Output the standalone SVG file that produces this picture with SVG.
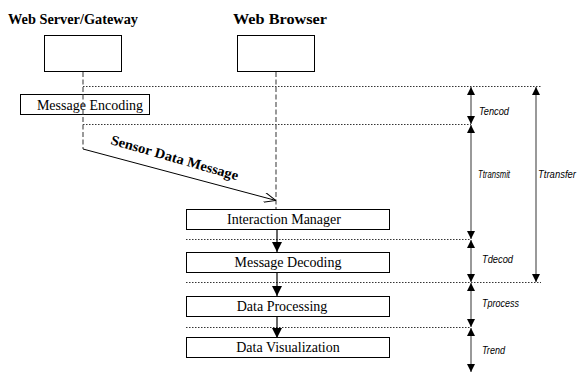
<svg xmlns="http://www.w3.org/2000/svg" width="577" height="373" viewBox="0 0 577 373">
<style>
.hdr{font-family:"Liberation Serif",serif;font-weight:bold;font-size:15px;fill:#000}
.box{fill:#fff;stroke:#000;stroke-width:1}
.bt{font-family:"Liberation Serif",serif;font-size:14px;fill:#000;text-anchor:middle}
.dot{stroke:#000;stroke-width:0.8;stroke-dasharray:1.5,1.5;fill:none}
.life{stroke:#555;stroke-width:1.2;stroke-dasharray:5,2.5;fill:none}
.dim{stroke:#555;stroke-width:1.2;fill:none}
.lbl{font-family:"Liberation Sans",sans-serif;font-style:italic;font-size:10px;fill:#000}
.flow{stroke:#000;stroke-width:1.2;fill:none}
</style>
<defs>
<marker id="tri" viewBox="0 0 10 10" refX="10" refY="5" markerWidth="10" markerHeight="10" markerUnits="userSpaceOnUse" orient="auto">
<path d="M0,0L10,5L0,10z" fill="#000"/>
</marker>
<marker id="dimh" viewBox="0 0 10 10" refX="10" refY="5" markerWidth="9" markerHeight="8" markerUnits="userSpaceOnUse" orient="auto-start-reverse">
<path d="M0,0L10,5L0,10z" fill="#000"/>
</marker>
<marker id="open" viewBox="0 0 12 10" refX="12" refY="5" markerWidth="12" markerHeight="10" markerUnits="userSpaceOnUse" orient="auto">
<path d="M0,0L12,5L0,10" fill="none" stroke="#000" stroke-width="1"/>
</marker>
</defs>
<g id="server">
<text class="hdr" x="8" y="24" textLength="130" lengthAdjust="spacingAndGlyphs">Web Server/Gateway</text>
<rect class="box" x="44.5" y="35.5" width="77" height="36"/>
</g>
<g id="browser">
<text class="hdr" x="233" y="24" textLength="94" lengthAdjust="spacingAndGlyphs">Web Browser</text>
<rect class="box" x="237.5" y="35.5" width="77" height="36"/>
</g>
<g id="guides">
<line class="dot" x1="83" y1="86.5" x2="541" y2="86.5"/>
<line class="dot" x1="83" y1="124.5" x2="471" y2="124.5"/>
<line class="dot" x1="186" y1="239.5" x2="471" y2="239.5"/>
<line class="dot" x1="186" y1="282.5" x2="541" y2="282.5"/>
<line class="dot" x1="186" y1="327.5" x2="471" y2="327.5"/>
</g>
<g id="encoding">
<rect class="box" x="20.5" y="94.5" width="129" height="20"/>
<text class="bt" x="90" y="110">Message Encoding</text>
</g>
<g id="connectors">
<line class="life" x1="83" y1="72" x2="83" y2="149"/>
<line class="life" x1="276" y1="72" x2="276" y2="209"/>
<line x1="83" y1="149" x2="276" y2="200.5" stroke="#000" stroke-width="1" marker-end="url(#open)"/>
<line class="flow" x1="277" y1="229" x2="277" y2="252" marker-end="url(#tri)"/>
<line class="flow" x1="277" y1="272" x2="277" y2="296" marker-end="url(#tri)"/>
<line class="flow" x1="277" y1="317" x2="277" y2="338" marker-end="url(#tri)"/>
<line class="dim" x1="471" y1="87" x2="471" y2="124" marker-start="url(#dimh)" marker-end="url(#dimh)"/>
<line class="dim" x1="471" y1="125" x2="471" y2="239" marker-start="url(#dimh)" marker-end="url(#dimh)"/>
<line class="dim" x1="471" y1="240" x2="471" y2="282" marker-start="url(#dimh)" marker-end="url(#dimh)"/>
<line class="dim" x1="471" y1="283" x2="471" y2="327" marker-start="url(#dimh)" marker-end="url(#dimh)"/>
<line class="dim" x1="471" y1="328" x2="471" y2="372" marker-start="url(#dimh)" marker-end="url(#dimh)"/>
<line class="dim" x1="536" y1="87" x2="536" y2="282" marker-start="url(#dimh)" marker-end="url(#dimh)"/>
</g>
<text x="0" y="0" transform="translate(110,144) rotate(16)" font-family="Liberation Serif, serif" font-weight="bold" font-size="14" fill="#000" textLength="132" lengthAdjust="spacingAndGlyphs">Sensor Data Message</text>
<g id="interaction">
<rect class="box" x="186.5" y="209.5" width="203" height="20"/>
<text class="bt" x="284" y="223.5">Interaction Manager</text>
</g>
<g id="decoding">
<rect class="box" x="186.5" y="252.5" width="203" height="20"/>
<text class="bt" x="288" y="266.5">Message Decoding</text>
</g>
<g id="processing">
<rect class="box" x="186.5" y="296.5" width="203" height="20"/>
<text class="bt" x="282" y="311">Data Processing</text>
</g>
<g id="visualization">
<rect class="box" x="186.5" y="337.5" width="203" height="20"/>
<text class="bt" x="288" y="352">Data Visualization</text>
</g>
<g id="labels">
<text class="lbl" x="479" y="115" textLength="30" lengthAdjust="spacingAndGlyphs">Tencod</text>
<text class="lbl" x="478" y="178" textLength="32" lengthAdjust="spacingAndGlyphs">Ttransmit</text>
<text class="lbl" x="538" y="178" textLength="38" lengthAdjust="spacingAndGlyphs">Ttransfer</text>
<text class="lbl" x="482" y="263" textLength="31" lengthAdjust="spacingAndGlyphs">Tdecod</text>
<text class="lbl" x="482" y="307" textLength="37" lengthAdjust="spacingAndGlyphs">Tprocess</text>
<text class="lbl" x="482" y="354" textLength="23" lengthAdjust="spacingAndGlyphs">Trend</text>
</g>
</svg>
